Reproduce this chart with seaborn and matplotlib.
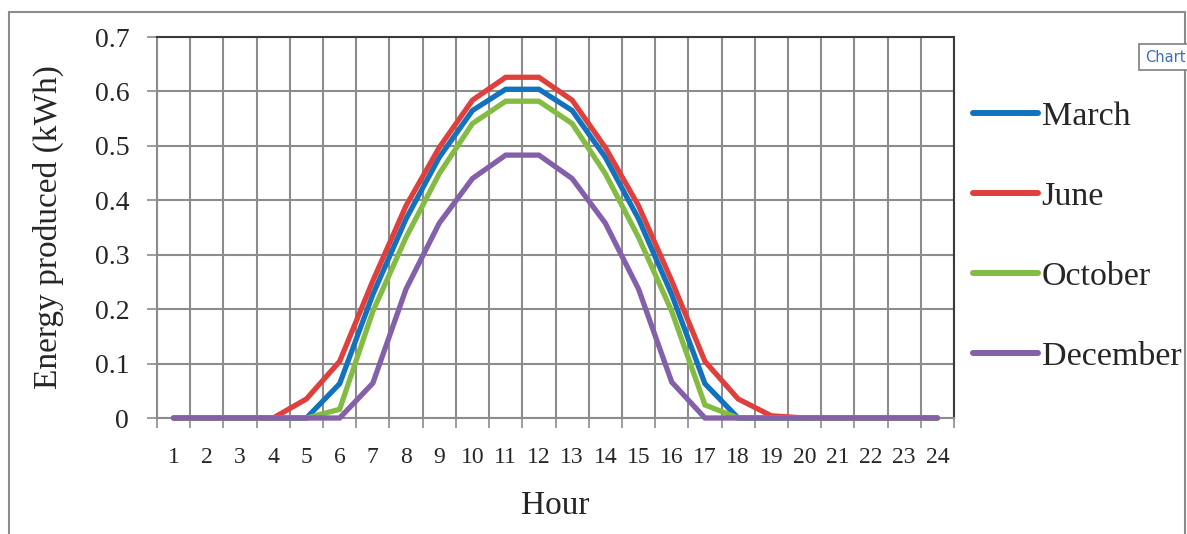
import numpy as np
import pandas as pd
import matplotlib
matplotlib.use("Agg")
import matplotlib.pyplot as plt
from matplotlib.lines import Line2D
from matplotlib.ticker import FixedLocator, FuncFormatter
import seaborn as sns

hours = list(range(1, 25))
march = [0, 0, 0, 0, 0, 0.063, 0.227, 0.366, 0.479, 0.565, 0.604, 0.604,
         0.565, 0.479, 0.366, 0.227, 0.063, 0, 0, 0, 0, 0, 0, 0]
june = [0, 0, 0, 0, 0.035, 0.104, 0.252, 0.390, 0.497, 0.584, 0.626, 0.626,
        0.584, 0.497, 0.390, 0.252, 0.104, 0.035, 0.004, 0, 0, 0, 0, 0]
october = [0, 0, 0, 0, 0, 0.016, 0.196, 0.332, 0.449, 0.541, 0.582, 0.582,
           0.541, 0.449, 0.332, 0.196, 0.024, 0, 0, 0, 0, 0, 0, 0]
december = [0, 0, 0, 0, 0, 0, 0.064, 0.237, 0.358, 0.440, 0.483, 0.483,
            0.440, 0.358, 0.237, 0.066, 0, 0, 0, 0, 0, 0, 0, 0]
months = ["March", "June", "October", "December"]
colors = {"March": "#1272BD", "June": "#DF403D", "October": "#84BB42", "December": "#8460AA"}
y_ticks = [0, 0.1, 0.2, 0.3, 0.4, 0.5, 0.6, 0.7]

df = pd.DataFrame({
    "Hour": hours * 4,
    "Energy": march + june + october + december,
    "Month": [m for m in months for _ in hours],
})

sns.set_style("white")
plt.rcParams["font.family"] = ["Liberation Serif", "DejaVu Serif"]

fig = plt.figure(figsize=(11.87, 5.34), dpi=100)
ax = fig.add_axes([157 / 1187, 1 - 418 / 534, 797 / 1187, 381 / 534])

sns.lineplot(data=df, x="Hour", y="Energy", hue="Month", hue_order=months,
             palette=colors, linewidth=3.8, ax=ax, legend=False)
for ln in ax.lines:
    ln.set_clip_on(False)
    ln.set_solid_joinstyle("miter")
    ln.set_zorder(3)

ax.set_xlim(0.5, 24.5)
ax.set_ylim(0, 0.7)

# category boundaries carry the ticks and grid, labels sit in the middle
ax.xaxis.set_major_locator(FixedLocator(np.arange(0.5, 25, 1)))
ax.xaxis.set_major_formatter(FuncFormatter(lambda v, p: ""))
ax.xaxis.set_minor_locator(FixedLocator(hours))
ax.xaxis.set_minor_formatter(FuncFormatter(lambda v, p: f"{int(round(v))}"))
ax.tick_params(axis="x", which="major", direction="out", length=7, width=1.2,
               color="#8c8c8c", bottom=True)
ax.tick_params(axis="x", which="minor", length=0, pad=21, labelsize=17)

ax.set_yticks(y_ticks)
ax.yaxis.set_major_formatter(FuncFormatter(lambda v, p: "0" if v == 0 else f"{v:.1f}"))
ax.tick_params(axis="y", direction="out", length=7, width=1.2, color="#8c8c8c",
               left=True, pad=13, labelsize=20)

ax.grid(True, which="major", color="#8c8c8c", linewidth=1.5)
ax.set_axisbelow(True)

for side in ["left", "bottom"]:
    ax.spines[side].set_color("#8c8c8c")
    ax.spines[side].set_linewidth(1.5)
for side in ["top", "right"]:
    ax.spines[side].set_color("#3a3a3a")
    ax.spines[side].set_linewidth(1.5)

ax.set_xlabel("Hour", fontsize=24, labelpad=16)
ax.set_ylabel("Energy produced (kWh)", fontsize=24)
ax.yaxis.set_label_coords(-0.117, 0.5)

handles = [Line2D([0], [0], color=colors[m], linewidth=4.3, solid_capstyle="round")
           for m in months]
ax.legend(handles, months, loc="center left", bbox_to_anchor=(973 / 1187, 1 - 236.5 / 534),
          bbox_transform=fig.transFigure, frameon=False, fontsize=24.5,
          handlelength=1.9, handletextpad=0.12, labelspacing=1.45, borderpad=0,
          borderaxespad=0)

# outer chart frame
fig.add_artist(Line2D([8.5 / 1187, 8.5 / 1187], [0, 1 - 12 / 534], color="#8c8c8c",
                      linewidth=1.5, transform=fig.transFigure))
fig.add_artist(Line2D([8.5 / 1187, 1185 / 1187], [1 - 12 / 534, 1 - 12 / 534],
                      color="#8c8c8c", linewidth=1.5, transform=fig.transFigure))
fig.add_artist(Line2D([1185 / 1187, 1185 / 1187], [0, 1 - 12 / 534], color="#8c8c8c",
                      linewidth=1.5, transform=fig.transFigure))

fig.text(1145 / 1187, 1 - 57 / 534, "Chart", fontsize=10.5, color="#3d6db5",
         family="DejaVu Sans", va="center", ha="left",
         bbox=dict(boxstyle="square,pad=0.4", facecolor="white", edgecolor="#7f7f7f",
                   linewidth=1.2))

fig.savefig("out.png", dpi=100)
